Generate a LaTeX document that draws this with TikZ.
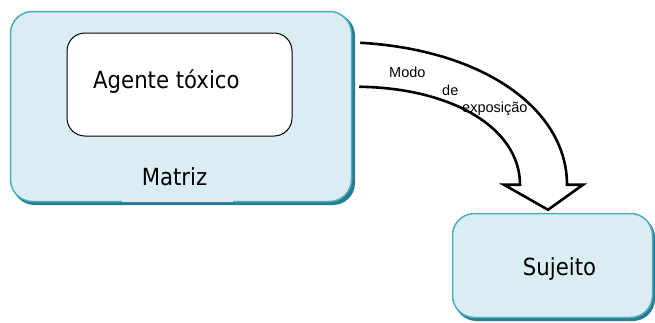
\documentclass[tikz,border=0pt]{standalone}
\usepackage{fontspec}
\setmainfont{DejaVu Sans Condensed}
\newfontfamily\labelfont{Liberation Sans}
\usetikzlibrary{calc}
\definecolor{boxfill}{HTML}{DAEDF3}
\definecolor{boxline}{HTML}{4BACC6}
\definecolor{boxshade}{HTML}{2B7A8E}
\tikzset{
  bluebox/.style={draw=boxline, line width=1.5pt, fill=boxfill,
    rounded corners=22pt, inner sep=0pt},
  shade/.style={fill=boxshade, rounded corners=22pt},
  whitebox/.style={draw=black, line width=1pt, fill=white,
    rounded corners=18pt, inner sep=0pt},
  bigtext/.style={font=\fontsize{23.6}{26}\selectfont},
  smalltext/.style={font=\labelfont\fontsize{14.5}{16}\selectfont, anchor=base west, inner sep=0pt},
  blockarrow/.style={draw=black, line width=2.6pt, line join=miter}
}
\begin{document}
\begin{tikzpicture}[x=1pt,y=-1pt]
\useasboundingbox (0,0) rectangle (655,322);
% drop shadows
\fill[shade] (12.5,13.5) rectangle (355,205);
\fill[shade] (454.5,215.5) rectangle (655,321);
% outer container and the subject box
\node[bluebox, minimum width=341pt, minimum height=190pt] (matriz) at (181,106.5) {};
\node[bluebox, minimum width=200pt, minimum height=104pt] (sujeito) at (552.5,265.5) {};
\node[bigtext, anchor=base, inner sep=0pt] at ($(sujeito.center)+(7,10)$) {Sujeito};
% inner agent box
\node[whitebox, minimum width=225pt, minimum height=103pt] (agente) at (179.5,84.5) {};
\node[bigtext, anchor=base west, inner sep=0pt] (agtext) at (93,88) {Agente tóxico};
\node[bigtext, fill=boxfill, inner sep=0pt, minimum width=111pt, minimum height=28pt] (mtext) at (177.5,187.5) {};
\node[bigtext, anchor=base, inner sep=0pt] at (174.5,185) {Matriz};
% curved block arrow from the container to the subject
\coordinate (o1) at ($(matriz.north east)+(8,32)$);
\coordinate (i1) at ($(matriz.north east)+(7,76)$);
\coordinate (tip) at ($(sujeito.north)+(-4.5,-3)$);
\coordinate (o2) at ($(tip)+(19,-25)$);
\coordinate (i2) at ($(tip)+(-28,-25)$);
\draw[blockarrow] (o1) .. controls (485,50) and (567,110) .. (o2)
  -- ++(16,0) -- (tip) -- ($(i2)+(-16,0)$) -- (i2)
  .. controls (520,128) and (452,88) .. (i1);
\node[smalltext] at (389,77) {Modo};
\node[smalltext] at (442,95) {de};
\node[smalltext] at (462,112) {exposição};
\end{tikzpicture}
\end{document}
